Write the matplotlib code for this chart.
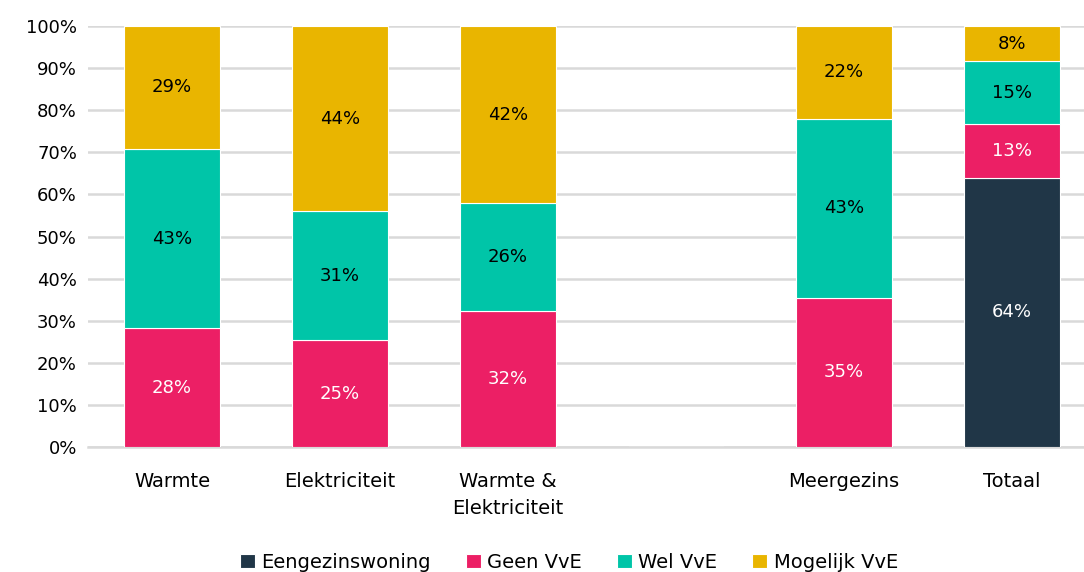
import matplotlib
matplotlib.use("Agg")
import matplotlib.pyplot as plt
import numpy as np

categories = ["Warmte", "Elektriciteit", "Warmte &\nElektriciteit", "", "Meergezins", "Totaal"]
eengezins = [0, 0, 0, 0, 0, 64.0]
geen_vve = [28.2, 25.3, 32.3, 0, 35.4, 12.7]
wel_vve = [42.6, 30.7, 25.6, 0, 42.6, 14.9]
mogelijk_vve = [29.2, 44.0, 42.1, 0, 22.0, 8.4]

series = [
    ("Eengezinswoning", eengezins, "#203647", "white"),
    ("Geen VvE", geen_vve, "#EC1F65", "white"),
    ("Wel VvE", wel_vve, "#00C5A8", "black"),
    ("Mogelijk VvE", mogelijk_vve, "#E9B500", "black"),
]

plt.rcParams['font.family'] = ['DejaVu Sans']

fig = plt.figure(figsize=(10.84, 5.72), dpi=100)
ax = fig.add_axes([88 / 1084, 1 - 447 / 572, 1 - 88 / 1084, 421 / 572])

x = np.arange(len(categories))
bottom = np.zeros(len(categories))
for name, vals, color, tcol in series:
    vals = np.array(vals)
    ax.bar(x, vals, 0.57, bottom=bottom, color=color, label=name,
           edgecolor="white", linewidth=0.8, zorder=3)
    for xi, v, b in zip(x, vals, bottom):
        if v > 0:
            ax.text(xi, b + v / 2, "%d%%" % round(v), ha="center", va="center",
                    color=tcol, fontsize=13, zorder=4)
    bottom += vals

ax.set_xlim(-0.5, 5.43)
ax.set_ylim(0, 100)
ax.set_yticks(np.arange(0, 101, 10))
ax.set_yticklabels(["%d%%" % v for v in range(0, 101, 10)], fontsize=13)
ax.set_xticks(x)
ax.set_xticklabels(categories, fontsize=14, linespacing=1.5)
ax.tick_params(length=0)
ax.tick_params(axis="x", pad=18)
ax.tick_params(axis="y", pad=8)
ax.grid(axis="y", color="#D9D9D9", linewidth=1.8, zorder=0)
for s in ["top", "right", "left"]:
    ax.spines[s].set_visible(False)
ax.spines["bottom"].set_color("#D9D9D9")
ax.spines["bottom"].set_linewidth(1.8)

fig.legend(loc="lower center", bbox_to_anchor=(0.525, -0.03), ncol=4, frameon=False,
           fontsize=14, handlelength=0.75, handleheight=0.75, handletextpad=0.35,
           columnspacing=1.8)

fig.savefig("out.png", dpi=100)
